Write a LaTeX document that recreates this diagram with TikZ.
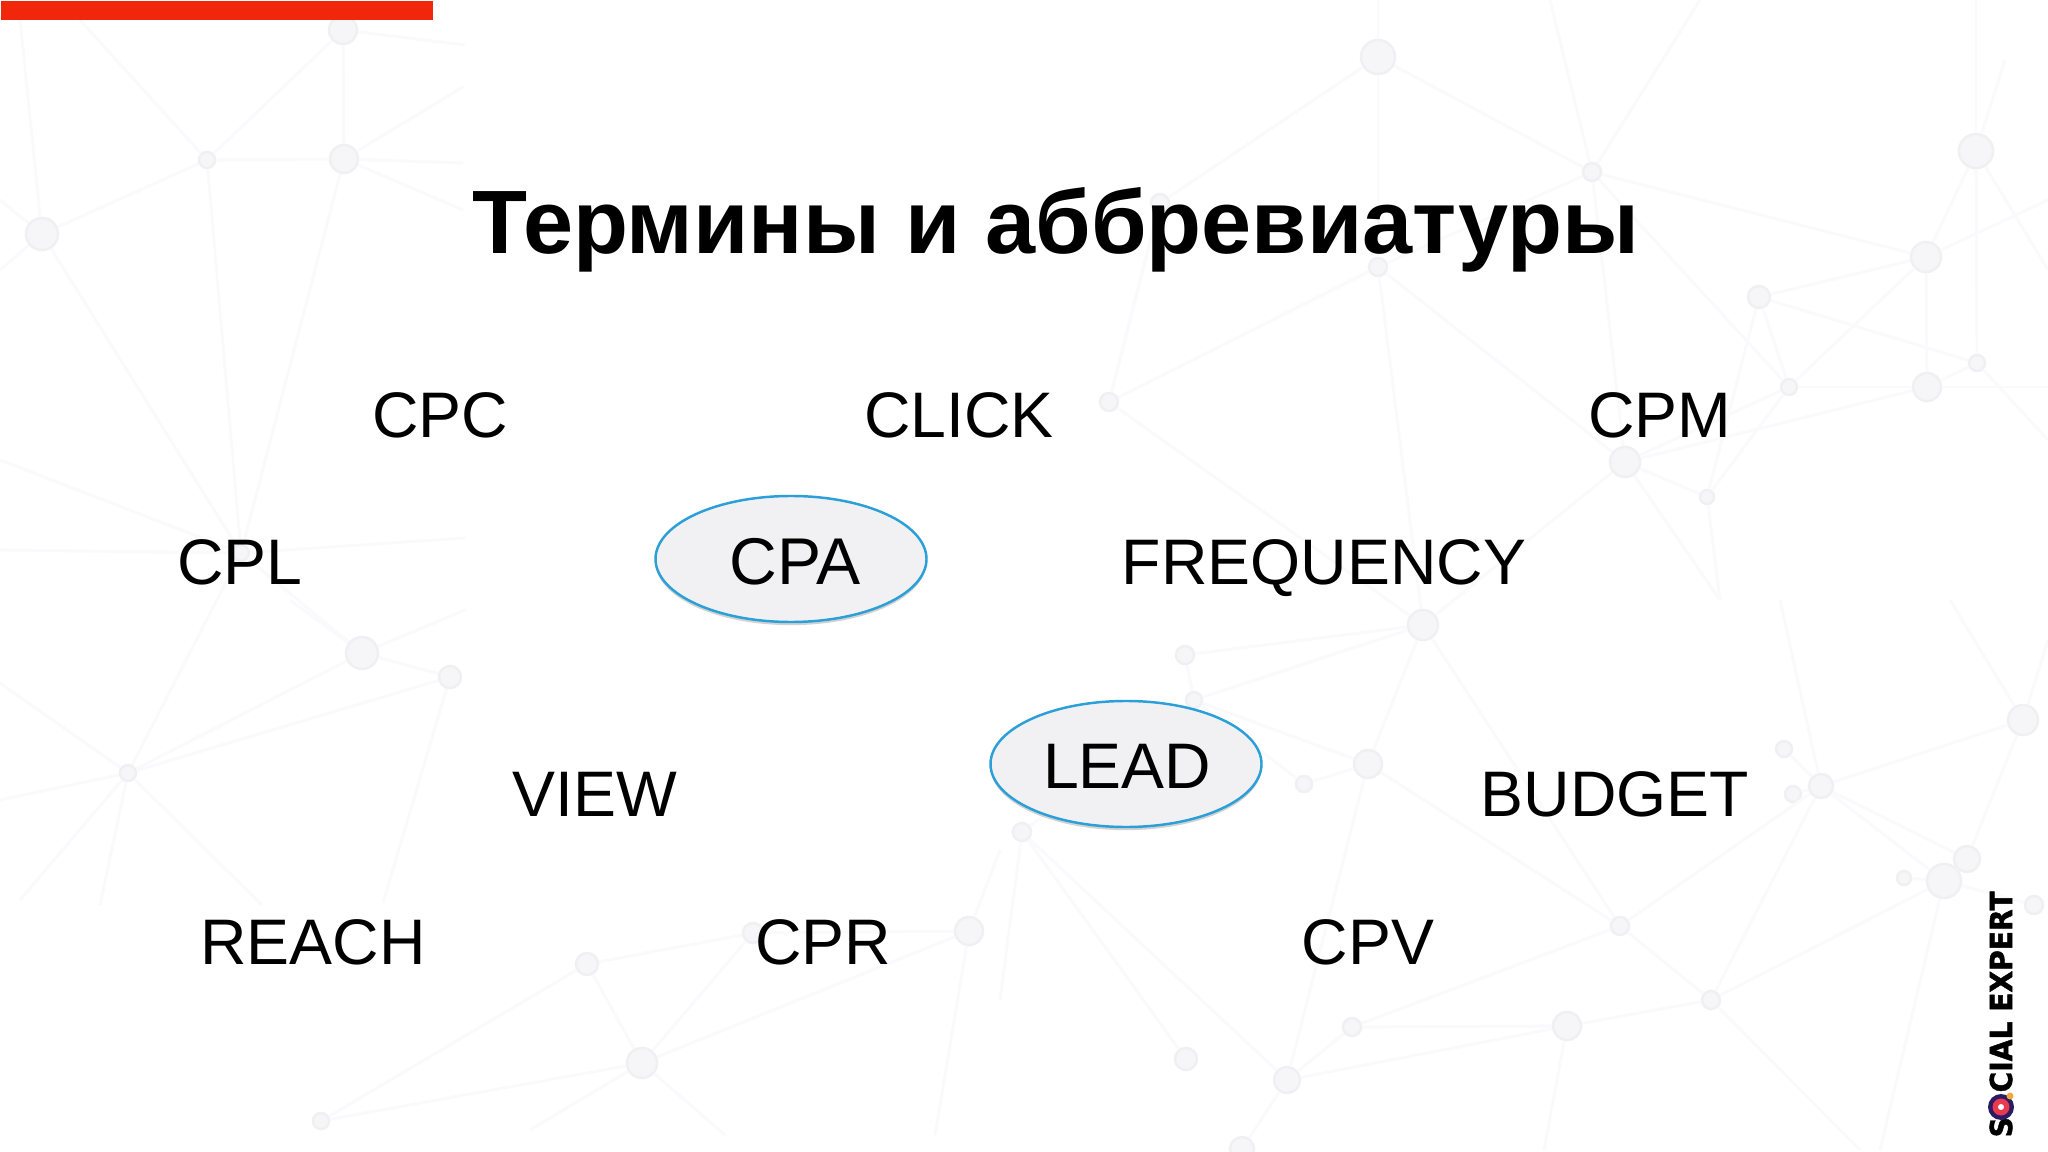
\documentclass[tikz,border=0pt]{standalone}
\usepackage{fontspec}
\setmainfont{Liberation Sans}
\newfontfamily\logofont{DejaVu Sans}[FakeBold=1.6]
\usetikzlibrary{shapes.geometric,shadows}
\definecolor{netline}{HTML}{FAF9FB}
\definecolor{netfill}{HTML}{F6F5F8}
\definecolor{netrim}{HTML}{F0EFF2}
\definecolor{barred}{HTML}{F2260B}
\definecolor{ovalblue}{HTML}{2A9FD8}
\definecolor{ovalfill}{HTML}{F1F1F3}
\definecolor{logonavy}{HTML}{2B1B63}
\definecolor{logored}{HTML}{E8394F}
\definecolor{logoamber}{HTML}{F2A93B}
\tikzset{
  netdot/.style={circle,draw=netrim,fill=netfill,line width=0.7pt,inner sep=0pt},
  term/.style={anchor=base,text=black,font=\fontsize{18.3}{22}\selectfont},
  oval/.style={ellipse,draw=ovalblue,fill=ovalfill,line width=0.7pt,inner sep=0pt,
    minimum width=271*0.01cm,minimum height=126*0.01cm,text=black,
    font=\fontsize{18.3}{22}\selectfont,
    drop shadow={shadow xshift=0pt,shadow yshift=-0.9pt,opacity=0.35,fill=gray}},
  logotext/.style={rotate=90,xscale=0.93,inner sep=0pt,text=black,
    font=\logofont\bfseries\fontsize{8.6}{10}\selectfont},
}
\begin{document}
\begin{tikzpicture}[x=0.01cm,y=-0.01cm]
  \useasboundingbox (0,0) rectangle (2048,1152);
  \fill[white] (0,0) rectangle (2048,1152);
  % background net
  \foreach \n/\x/\y in {a1/80/20,a2/465/45,a3/463/87,a4/463/163,a5/463/210,a6/20/20,a7/0/200,a8/0/270,
    a9/0/460,a10/0/550,a11/465/538,a12/465/610,a13/290/600,a14/383/903,a15/0/683,a16/0/800,a17/20/900,
    a18/100/905,a19/262/905,a20/530/1130,a21/725/1135,a22/935/1135,a23/1000/850,a24/1550/0,a25/1700/0,
    a26/2005/60,a27/2048/270,a28/2048/200,a29/2048/387,a30/2048/440,a31/1720/600,a32/1780/600,
    a33/1544/1150,a34/1860/1150,a35/1880/1150,a36/1950/600,a37/2048/640,a38/1000/1000,a39/1378/0,a40/1976/0}
    \coordinate (\n) at (\x,\y);
  \foreach \n/\x/\y/\rad in {na/343/30/14,nb/344/159/14,nc/207/160/8,nd/42/234/16,ne/1378/57/17,nf/1592/172/9,
    ng/1976/151/17,nh/1926/257/15,ni/1378/267/9,nj/1759/297/11,nk/1977/363/8,nl/1789/387/8,nm/1927/387/14,
    nn/1109/402/9,no/1625/462/15,np/1707/497/7,nq/362/653/16,nr/450/677/11,ns/1185/655/9,nt/1423/625/15,
    nu/1194/700/8,nv/128/773/8,nw/1368/764/14,nx/1304/784/8,ny/1784/749/8,nz/1821/786/12,oa/1793/794/8,
    ob/2023/720/15,oc/1022/832/9,od/1944/881/17,oe/1967/859/13,of/1904/878/7,og/2034/905/9,oh/969/931/14,
    oi/753/933/10,oj/587/964/11,ok/1620/926/9,ol/1711/1000/9,om/1567/1026/14,on/1352/1027/9,oo/642/1063/15,
    op/1186/1059/11,oq/1287/1080/13,or/321/1121/8,os/1242/1149/12,ot/241/553/8,ou/1160/203/9}
    \node[netdot,minimum size=\rad*0.02cm] (\n) at (\x,\y) {};
  \begin{scope}[every edge/.style={draw=netline,line width=0.8pt}]
    \foreach \p/\q in {na/nb,nc/nb,nc/na,nc/nd,nc/a1,na/a2,nb/a3,nb/a4,nb/a5,nd/a6,nd/a7,nd/a8,nd/ot,
      nb/ot,nc/ot,ot/a9,ot/a10,ot/a11,ot/nq,ot/nv,nq/a12,nq/nr,nq/nv,nr/nv,nr/a14,nq/a13,nv/a15,nv/a16,
      nv/a17,nv/a18,nv/a19,oj/oi,oi/oh,oj/oo,oi/oo,oh/oo,oo/or,oo/a20,oo/a21,or/oj,oh/a22,oh/a23,
      nt/ns,nt/nu,nt/nw,nt/ni,ni/nn,ni/no,ni/nf,ni/ne,nn/nt,nn/ou,ne/ou,ne/nf,nf/nh,nf/no,nf/nl,nf/a24,nf/a25,
      ne/a39,ou/nn,no/np,no/nt,no/nl,nh/nj,nh/ng,nh/nl,nh/nm,ng/nk,ng/a26,ng/a27,nj/nl,nj/np,nj/nk,nl/nm,nk/nm,
      nm/a29,nk/a30,nh/a28,ng/a40,nl/np,nm/no,np/a31,no/a31,nz/ny,nz/oa,nz/ob,nz/oe,nz/ok,nz/ol,nz/a32,
      nw/ok,nw/nu,nw/nx,nx/nu,ns/nu,nt/ok,ok/ol,ok/on,ol/om,om/on,om/a33,ol/a34,ol/od,oq/on,oq/om,oq/nw,oq/oc,
      oq/os,op/oc,oc/nu,oc/a38,od/oe,of/od,od/nz,od/og,od/a35,ob/oe,ob/a36,ob/a37}
      \path (\p) edge (\q);
  \end{scope}
  % red bar
  \node[fill=barred,inner sep=0pt,minimum width=432*0.01cm,minimum height=19*0.01cm,anchor=north west] (bar) at (0,0) {};
  % title
  \node[anchor=base,text=black,inner sep=0pt,font=\bfseries\fontsize{25.6}{30}\selectfont] (title) at (1056,254) {Термины и аббревиатуры};
  % terms
  \node[term] (cpc) at (440,438) {CPC};
  \node[term] (click) at (959,438) {CLICK};
  \node[term] (cpm) at (1660,438) {CPM};
  \node[term] (cpl) at (240,584) {CPL};
  \node[term] (freq) at (1324,584) {FREQUENCY};
  \node[term] (view) at (595,816) {VIEW};
  \node[term] (budget) at (1615,816) {BUDGET};
  \node[term] (reach) at (313,964) {REACH};
  \node[term] (cpr) at (823,964) {CPR};
  \node[term] (cpv) at (1368,964) {CPV};
  \node[oval] (cpa) at (791,559) {\hspace{2.3pt}\raisebox{-0.8pt}[13.1pt][0pt]{\fontsize{18.8}{22}\selectfont CPA}};
  \node[oval] (lead) at (1126,764) {\hspace{0.6pt}\raisebox{-0.4pt}[13.1pt][0pt]{LEAD}};
  % logo
  \node[logotext,anchor=west] (logos) at (2001,1138) {S};
  \node[circle,fill=logonavy,minimum size=26*0.01cm,inner sep=0pt] (logoa) at (2001,1107) {};
  \node[circle,fill=logored,minimum size=17*0.01cm,inner sep=0pt] (logob) at (logoa) {};
  \node[circle,fill=white,minimum size=6*0.01cm,inner sep=0pt] (logoc) at (logoa) {};
  \node[circle,fill=logoamber,minimum size=7*0.01cm,inner sep=0pt] (logod) at (2010,1096) {};
  \node[logotext,anchor=west] (logoe) at (2001,1093) {CIAL EXPERT};
\end{tikzpicture}
\end{document}
